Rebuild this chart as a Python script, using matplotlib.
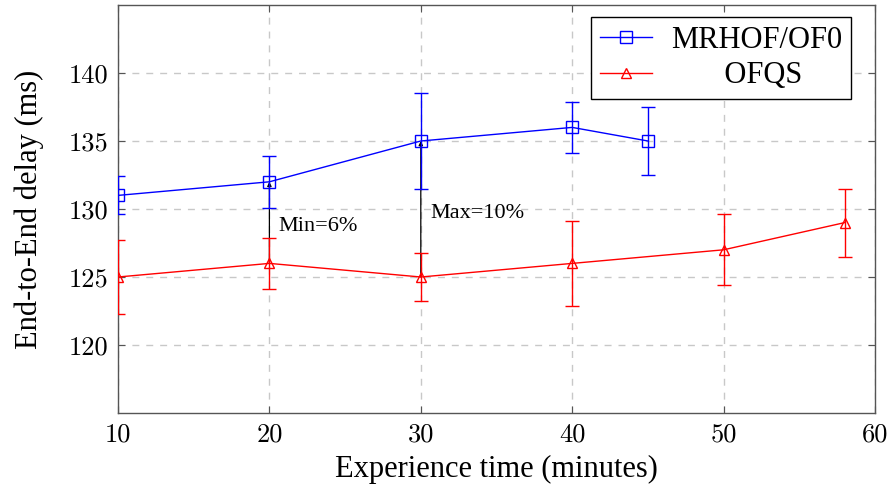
import numpy as np
import matplotlib
matplotlib.use("Agg")
import matplotlib.pyplot as plt
from matplotlib.lines import Line2D

# data
x_mrhof = [10, 20, 30, 40, 45]
y_mrhof = [131, 132, 135, 136, 135]
err_mrhof = [1.4, 1.9, 3.5, 1.9, 2.5]

x_ofqs = [10, 20, 30, 40, 50, 58]
y_ofqs = [125, 126, 125, 126, 127, 129]
err_ofqs = [2.7, 1.85, 1.8, 3.15, 2.6, 2.5]

xticks = [10, 20, 30, 40, 50, 60]
yticks = [120, 125, 130, 135, 140]

# gap annotations: (x, low, high, label)
gaps = [(20, 126, 132, "Min=6%"), (30, 125, 135, "Max=10%")]

plt.rcParams["font.family"] = ["Liberation Serif", "DejaVu Serif"]

fig = plt.figure(figsize=(8.9, 4.93), dpi=100)
ax = fig.add_axes([118 / 890, (493 - 413) / 493, (875 - 118) / 890, (413 - 5) / 493])

style = dict(markerfacecolor="none", markeredgewidth=1.0, linewidth=1.0,
             elinewidth=1.0, capsize=5, capthick=1.0, zorder=3)
ax.errorbar(x_mrhof, y_mrhof, yerr=err_mrhof, color="blue", marker="s",
            markersize=9, **style)
ax.errorbar(x_ofqs, y_ofqs, yerr=err_ofqs, color="red", marker="^",
            markersize=7, **style)

for gx, lo, hi, txt in gaps:
    ax.annotate("", xy=(gx, hi), xytext=(gx, lo),
                arrowprops=dict(arrowstyle="-|>", color="black", lw=0.9,
                                mutation_scale=6, shrinkA=0, shrinkB=0),
                zorder=2)
    ax.text(gx + 0.6, (lo + hi) / 2 - 0.3, txt, fontsize=16,
            va="center", ha="left")

ax.set_xlim(10, 60)
ax.set_ylim(115, 145)
ax.set_xticks(xticks)
ax.set_xticklabels([str(v) for v in xticks], fontfamily="cmr10")
ax.set_yticks(yticks)
ax.set_yticklabels([str(v) for v in yticks], fontfamily="cmr10")
ax.grid(True, linestyle=(0, (5, 5)), color="#c8c8c8", linewidth=1.0)
ax.set_axisbelow(True)
ax.tick_params(direction="in", top=True, right=True, length=5,
               color="#555555", labelsize=19, pad=7)
for sp in ax.spines.values():
    sp.set_color("#555555")
    sp.set_linewidth(1.0)

ax.set_xlabel("Experience time (minutes)", fontsize=22, labelpad=6)
ax.set_ylabel("End-to-End delay (ms)", fontsize=22, labelpad=18)

handles = [
    Line2D([], [], color="blue", marker="s", markersize=9,
           markerfacecolor="none", linewidth=1.0),
    Line2D([], [], color="red", marker="^", markersize=7,
           markerfacecolor="none", linewidth=1.0),
]
leg = ax.legend(handles, ["MRHOF/OF0", "       OFQS"], loc="upper right",
                fontsize=22, frameon=True, fancybox=False, edgecolor="black",
                framealpha=1, bbox_to_anchor=(1 - 24 / 757, 1 - 12 / 408),
                borderaxespad=0, handlelength=1.7, handletextpad=0.6,
                borderpad=0.3, labelspacing=0.2)
leg.get_frame().set_linewidth(1.0)

fig.savefig("out.png", dpi=100)
